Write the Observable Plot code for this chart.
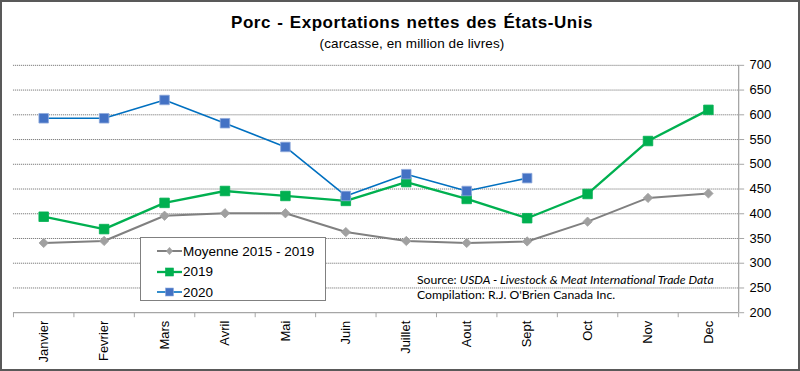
<!DOCTYPE html>
<html><head><meta charset="utf-8">
<script src="https://cdn.jsdelivr.net/npm/d3@7"></script>
<script src="https://cdn.jsdelivr.net/npm/@observablehq/plot@0.6"></script>
<style>
body{margin:0;background:#fff;}
#wrap{position:relative;width:800px;height:371px;box-sizing:border-box;border:2px solid #595959;overflow:hidden;font-family:"Liberation Sans",Arial,sans-serif;}
#chart{position:absolute;left:-2px;top:-2px;}
#title{position:absolute;left:20px;width:780px;top:11px;text-align:center;font-weight:bold;font-size:17px;letter-spacing:0.55px;word-spacing:1px;color:#000;}
#sub{position:absolute;left:20px;width:780px;top:34px;text-align:center;font-size:13.5px;letter-spacing:0.1px;color:#000;}
#legend{position:absolute;left:138px;top:235px;width:184px;height:62px;border:1px solid #808080;background:#fff;font-size:13.5px;}
.row{position:absolute;left:16px;height:20px;display:flex;align-items:center;}
.row span{margin-left:1px;}
#src{position:absolute;left:415px;top:270px;font-family:Lato,"Open Sans",sans-serif;font-size:12.2px;line-height:15px;color:#000;}
</style></head>
<body>
<div id="wrap">
<div id="chart"></div>
<div id="title">Porc - Exportations nettes des États-Unis</div>
<div id="sub">(carcasse, en million de livres)</div>
<div id="legend"></div>
<div id="src">Source: <i>USDA - Livestock &amp; Meat International Trade Data</i><br>Compilation: R.J. O'Brien Canada Inc.</div>
</div>
<script>
const months = ["Janvier","Fevrier","Mars","Avril","Mai","Juin","Juillet","Aout","Sept","Oct","Nov","Dec"];
const moyenne = [341,345,396,401,401,363,345,341,344,384,432,441];
const y2019 = [394,369,422,446,436,426,464,430,391,440,547,610];
const y2020 = [593,593,630,583,535,436,480,446,472];
const yTicks = [200,250,300,350,400,450,500,550,600,650,700];
const seriesNames = ["Moyenne 2015 - 2019","2019","2020"];

const styles = {
  "Moyenne 2015 - 2019": {line:"#808080", fill:"#a0a0a0", stroke:"#a0a0a0", symbol:"diamond2", r:4.2, w:2},
  "2019": {line:"#00B050", fill:"#00B050", stroke:"#00B050", symbol:"square", r:5.4, w:2.3},
  "2020": {line:"#0070C0", fill:"#4472C4", stroke:"#8faadc", symbol:"square", r:5.4, w:1.6}
};
const toRows = (arr, name) => arr.map((v,i)=>({i, v, name}));
const data = {
  "Moyenne 2015 - 2019": toRows(moyenne, seriesNames[0]),
  "2019": toRows(y2019, seriesNames[1]),
  "2020": toRows(y2020, seriesNames[2])
};
const xDomain = [-0.5, months.length - 0.5];
const boundaries = d3.range(months.length + 1).map(i => i - 0.5);

const marks = [
  Plot.gridY(yTicks.filter(t => t > yTicks[0]), {stroke:"#7f7f7f", strokeOpacity:1, strokeDasharray:"1.2,0.8"}),
  Plot.ruleY([yTicks[0]], {stroke:"#a6a6a6", strokeWidth:1.3}),
  Plot.ruleX([xDomain[1]], {stroke:"#a6a6a6", strokeWidth:1.3}),
  Plot.axisY({anchor:"right", ticks:yTicks, tickSize:5, tickPadding:6, stroke:"#a6a6a6", fontSize:13, fill:"#000", label:null}),
  Plot.axisX(boundaries, {tickSize:5, stroke:"#a6a6a6", tickFormat:()=>"", label:null}),
  Plot.axisX(d3.range(months.length), {tickSize:0, tickRotate:-90, tickPadding:8, tickFormat:i=>months[i], fontSize:13, fill:"#000", label:null})
];
for (const name of seriesNames) {
  const s = styles[name];
  marks.push(Plot.line(data[name], {x:"i", y:"v", stroke:s.line, strokeWidth:s.w}));
}
for (const name of seriesNames) {
  const s = styles[name];
  marks.push(Plot.dot(data[name], {x:"i", y:"v", symbol:()=>s.symbol, r:s.r, fill:s.fill, stroke:s.stroke, strokeWidth:0.8}));
}
const chart = Plot.plot({
  width:800, height:371,
  marginLeft:13, marginRight:60, marginTop:65, marginBottom:58,
  x:{domain:xDomain, axis:null},
  y:{domain:[yTicks[0], yTicks[yTicks.length-1]], axis:null},
  symbol:{type:"identity"},
  style:{fontFamily:"'Liberation Sans', Arial, sans-serif", background:"transparent"},
  marks
});
document.getElementById("chart").appendChild(chart);

// legend
const leg = document.getElementById("legend");
seriesNames.forEach((name, k) => {
  const s = styles[name];
  const row = document.createElement("div");
  row.className = "row";
  row.style.top = (3 + k*20.5) + "px";
  const sym = s.symbol === "square"
    ? `<rect x="8.5" y="5" width="8" height="8" fill="${s.fill}" stroke="${s.stroke}" stroke-width="0.6"/>`
    : `<path d="M12.5,5 L16,9 L12.5,13 L9,9Z" fill="${s.fill}"/>`;
  row.innerHTML = `<svg width="25" height="18"><line x1="0" x2="25" y1="9" y2="9" stroke="${s.line}" stroke-width="${s.w}"/>${sym}</svg><span>${name}</span>`;
  leg.appendChild(row);
});
</script>
</body></html>
